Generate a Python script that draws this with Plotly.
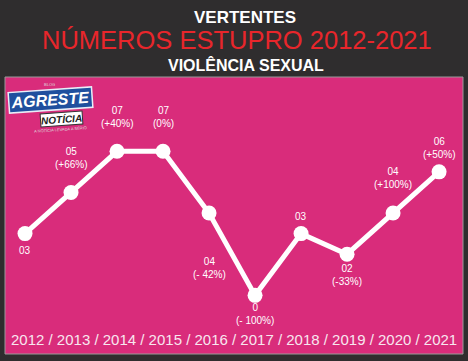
import plotly.graph_objects as go

years = [2012, 2013, 2014, 2015, 2016, 2017, 2018, 2019, 2020, 2021]
cases = [3, 5, 7, 7, 4, 0, 3, 2, 4, 6]
labels = ["03", "05<br>(+66%)", "07<br>(+40%)", "07<br>(0%)", "04<br>(- 42%)",
          "0<br>(- 100%)", "03", "02<br>(-33%)", "04<br>(+100%)", "06<br>(+50%)"]
label_shift = [-17, 34, 34, 34, -55, -19, 17, -21, 35, 24]
x_axis_text = " / ".join(str(y) for y in years)

PINK = "#d92c7b"
DARK = "#2f2d2e"
ARIAL = "Liberation Sans, Arial"

fig = go.Figure()
fig.add_trace(go.Scatter(
    x=years, y=cases, mode="lines+markers",
    line=dict(color="white", width=5),
    marker=dict(color="white", size=15),
    hoverinfo="skip",
))

for x, y, t, s in zip(years, cases, labels, label_shift):
    fig.add_annotation(x=x, y=y, text=t, showarrow=False, yshift=s,
                       xanchor="center", yanchor="middle",
                       font=dict(family=ARIAL, size=10, color="white"),
                       align="center")

W, H = 468, 361
L, R, T, B = 5, 5, 77, 7
PW, PH = W - L - R, H - T - B
def px(x): return (x - L) / PW
def py(y): return (H - B - y) / PH

def pann(x, y, text, font, **kw):
    fig.add_annotation(x=px(x), y=py(y), xref="paper", yref="paper", text=text,
                       xanchor="center", yanchor="middle",
                       showarrow=False, font=font, **kw)

# titles
pann(245, 17, "<b>VERTENTES</b>", dict(family=ARIAL, size=17, color="white"))
pann(236.5, 40.5, "NÚMEROS ESTUPRO 2012-2021", dict(family=ARIAL, size=25.5, color="#e8262b"))
pann(246, 64.5, "<b>VIOLÊNCIA SEXUAL</b>", dict(family=ARIAL, size=16, color="white"))

# bottom axis text
pann(234, 339, x_axis_text, dict(family=ARIAL, size=15, color="#f8e6ef"))

# logo
pann(50, 100, "<b><i>AGRESTE</i></b>", dict(family=ARIAL, size=16, color="white"),
     textangle=-4, bgcolor="#1f4f9e", bordercolor="#e8eef8", borderwidth=1.5, borderpad=1)
pann(61, 119, "<b><i>NOTÍCIA</i></b>", dict(family=ARIAL, size=10, color="#222"),
     textangle=-4, bgcolor="white", bordercolor="#333", borderwidth=1, borderpad=0)
pann(49, 84, "BLOG", dict(family=ARIAL, size=4, color="#dddddd"))
pann(60, 129, "A NOTÍCIA LEVADA A SÉRIO", dict(family=ARIAL, size=4, color="#dddddd"),
     textangle=-4)

fig.add_shape(type="rect", xref="paper", yref="paper", x0=0, x1=1, y0=0, y1=1,
              line=dict(color="#9a9a9a", width=1))

fig.update_layout(
    width=W, height=H,
    margin=dict(l=L, r=R, t=T, b=B),
    paper_bgcolor=DARK, plot_bgcolor=PINK,
    showlegend=False,
    xaxis=dict(range=[2011.565, 2021.52], visible=False, fixedrange=True),
    yaxis=dict(range=[-2.85, 10.61], visible=False, fixedrange=True),
)

fig.write_html("out.html")
